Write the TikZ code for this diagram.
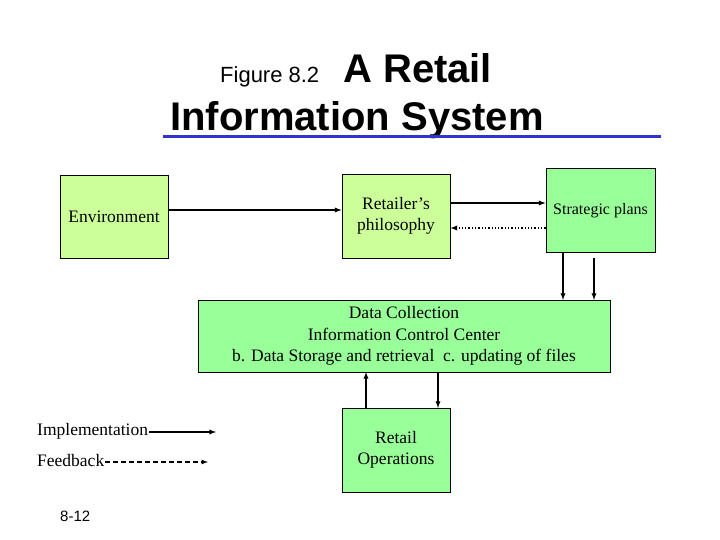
\documentclass[tikz,border=0pt]{standalone}
\usepackage{fontspec}
\setmainfont{Liberation Serif}
\newfontfamily\hsans{Liberation Sans}
\begin{document}
\begin{tikzpicture}[x=1pt,y=-1pt,
 box/.style={draw=black,line width=0.8pt,inner sep=0pt,align=center,font=\fontsize{17.5}{21.5}\selectfont},
 arr/.style={-latex,line width=1.3pt},
 lbl/.style={inner sep=1pt,font=\fontsize{17.5}{21}\selectfont}]
\useasboundingbox (0,0) rectangle (720,540);
\definecolor{lyg}{HTML}{CCFF99}
\definecolor{lg}{HTML}{99FF99}
\definecolor{tb}{HTML}{3333CC}
\node[anchor=base west,font=\hsans\fontsize{22}{26}\selectfont,inner sep=0pt] (fig) at (220,83) {Figure 8.2};
\node[anchor=base west,font=\hsans\bfseries\fontsize{40}{44}\selectfont,inner sep=0pt] (t1) at (343,83) {A Retail};
\node[anchor=base,font=\hsans\bfseries\fontsize{40}{44}\selectfont,inner sep=0pt] (t2) at (357,131) {Information System};
\draw[tb,line width=3.5pt] (163,136.5) -- (661,136.5);
\node[box,fill=lyg,minimum width=108,minimum height=83] (env) at (114,216.5) {Environment};
\node[box,fill=lyg,minimum width=108,minimum height=84] (phil) at (396,216) {Retailer’s\\philosophy};
\node[box,fill=lg,minimum width=109,minimum height=84] (strat) at (600.5,210) {};
\node[font=\fontsize{16}{19}\selectfont,inner sep=0pt] (stxt) at (600.5,211) {Strategic plans};
\node[box,fill=lg,minimum width=412,minimum height=72] (dc) at (404,336) {Data Collection\\Information Control Center\\b. Data Storage and retrieval\ \ c. updating of files};
\node[box,fill=lg,minimum width=108,minimum height=84] (ops) at (396,450) {Retail\\Operations};
\draw[arr] (env.east |- 0,210) -- (phil.west |- 0,210);
\draw[arr] (phil.east |- 0,203) -- (strat.west |- 0,203);
\draw[-latex,line width=1.3pt,dotted] (strat.west |- 0,228) -- (phil.east |- 0,228);
\draw[arr] (563,252) -- (563,300);
\draw[arr] (594,258) -- (594,300);
\draw[arr] (366,408) -- (366,372);
\draw[arr] (438,372) -- (438,408);
\node[lbl,anchor=base west] (impl) at (36,435) {Implementation};
\node[lbl,anchor=base west] (fb) at (36,466) {Feedback};
\coordinate (ie) at (216,432);
\coordinate (fe) at (208,462);
\draw[arr] (impl.east |- ie) -- (ie);
\draw[-latex,line width=1.2pt,dash pattern=on 5pt off 3pt] (fb.east |- fe) -- (fe);
\node[anchor=base west,font=\hsans\fontsize{15}{17}\selectfont,inner sep=0pt] (pg) at (60,521) {8-12};
\end{tikzpicture}
\end{document}
